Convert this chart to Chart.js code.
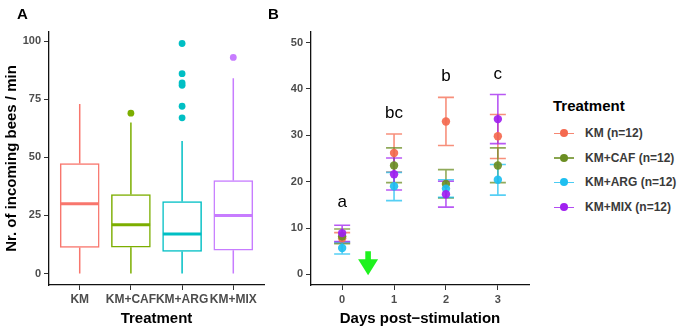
<!DOCTYPE html>
<html>
<head>
<meta charset="utf-8">
<script src="https://cdn.jsdelivr.net/npm/chart.js@4"></script>
<style>
  body { margin: 0; background: #fff; font-family: 'Liberation Sans', Arial, sans-serif; }
  #wrap { position: relative; width: 685px; height: 331px; overflow: hidden; background: #fff; }
  #chart-a, #chart-b { position: absolute; top: 0; }
  #chart-a { left: 0; }
  #chart-b { left: 268px; }
  .panel { position: absolute; font-weight: bold; font-size: 15px; color: #000; line-height: 1; }
  #legend { position: absolute; left: 553px; top: 96px; }
  #legend .title { font-weight: bold; font-size: 15px; color: #000; height: 20px; line-height: 20px; margin-bottom: 5px; }
  #legend .item { position: relative; height: 24.7px; line-height: 24.7px; font-size: 12px; font-weight: bold; color: #3a3a3a; padding-left: 32px; }
  #legend .key-line { position: absolute; left: 1px; top: 11.5px; width: 20px; height: 1.6px; }
  #legend .key-dot { position: absolute; left: 7px; top: 8px; width: 8px; height: 8px; border-radius: 50%; }
</style>
</head>
<body>
<div id="wrap">
  <canvas id="chart-a" width="268" height="331"></canvas>
  <canvas id="chart-b" width="277" height="331"></canvas>
  <div class="panel" style="left:17px;top:6px">A</div>
  <div class="panel" style="left:268px;top:6px">B</div>
  <div id="legend"></div>
</div>
<script>
// ---- Panel A data (boxplots) ----
const treatments = ['KM', 'KM+CAF', 'KM+ARG', 'KM+MIX'];
const boxColors = ['#F8766D', '#7CAE00', '#00BFC4', '#C77CFF'];
const boxLow = [0, 0, 0, 0];
const boxQ1 = [11.2, 11.3, 9.5, 10];
const boxMedian = [30, 21, 17, 25];
const boxQ3 = [47.3, 34, 31, 40];
const boxHigh = [73, 65, 57, 84];
const outlierGroup = [2, 3, 3, 3, 3, 3, 3, 4];
const outlierValue = [69, 99, 86, 82, 81, 72, 67, 93];
const ticksA = [0, 25, 50, 75, 100];

// ---- Panel B data (mean +/- error per day) ----
const days = [0, 1, 2, 3];
const seriesNames = ['KM (n=12)', 'KM+CAF (n=12)', 'KM+ARG (n=12)', 'KM+MIX (n=12)'];
const seriesColors = ['#F4694F', '#6B8E23', '#1EBFF0', '#A020F0'];
const meanKM = [7.8, 26.2, 33.0, 29.8];
const lowKM = [6.8, 22.1, 27.8, 25.0];
const highKM = [9.0, 30.3, 38.2, 34.5];
const meanCAF = [8.2, 23.5, 19.5, 23.5];
const lowCAF = [6.6, 19.8, 16.5, 19.8];
const highCAF = [9.8, 27.3, 22.6, 27.3];
const meanARG = [5.7, 19.0, 18.5, 20.4];
const lowARG = [4.4, 15.9, 16.6, 17.1];
const highARG = [6.9, 22.0, 20.4, 23.7];
const meanMIX = [8.9, 21.6, 17.3, 33.5];
const lowMIX = [7.1, 18.2, 14.5, 28.2];
const highMIX = [10.6, 25.1, 20.1, 38.8];
const letters = ['a', 'bc', 'b', 'c'];
const letterY = [15.6, 34.8, 42.8, 43.1];
const ticksB = [0, 10, 20, 30, 40, 50];
const arrowX = 0.5, arrowFrom = 5.0, arrowTo = -0.2;

const means = [meanKM, meanCAF, meanARG, meanMIX];
const lows = [lowKM, lowCAF, lowARG, lowMIX];
const highs = [highKM, highCAF, highARG, highMIX];

const FONT = "'Liberation Sans', Arial, sans-serif";
const tickFont = { family: FONT, size: 11, weight: 'bold' };
const titleFont = { family: FONT, size: 15, weight: 'bold' };

function rgba(hex, a) {
  const n = parseInt(hex.slice(1), 16);
  return `rgba(${n >> 16},${(n >> 8) & 255},${n & 255},${a})`;
}

function axisStyle(extra) {
  return Object.assign({
    offset: false,
    grid: { drawOnChartArea: false, drawTicks: true, tickLength: 5, color: '#333', lineWidth: 1, offset: false },
    border: { display: true, color: '#111', width: 1.3 },
    ticks: { font: tickFont, color: '#4D4D4D', padding: 3, autoSkip: false, maxRotation: 0 }
  }, extra);
}

// whiskers behind the boxes, medians on top
const boxParts = {
  id: 'boxParts',
  beforeDatasetsDraw(chart) {
    const { ctx, scales: { x, y } } = chart;
    ctx.save();
    ctx.lineWidth = 1.5;
    treatments.forEach((t, i) => {
      const px = x.getPixelForValue(i + 1);
      ctx.strokeStyle = boxColors[i];
      ctx.beginPath();
      ctx.moveTo(px, y.getPixelForValue(boxQ3[i]));
      ctx.lineTo(px, y.getPixelForValue(boxHigh[i]));
      ctx.moveTo(px, y.getPixelForValue(boxQ1[i]));
      ctx.lineTo(px, y.getPixelForValue(boxLow[i]));
      ctx.stroke();
    });
    ctx.restore();
  },
  afterDatasetsDraw(chart) {
    const { ctx, scales: { x, y } } = chart;
    ctx.save();
    ctx.lineWidth = 3;
    const half = x.getPixelForValue(1.375) - x.getPixelForValue(1);
    treatments.forEach((t, i) => {
      const px = x.getPixelForValue(i + 1);
      const py = y.getPixelForValue(boxMedian[i]);
      ctx.strokeStyle = boxColors[i];
      ctx.beginPath();
      ctx.moveTo(px - half, py);
      ctx.lineTo(px + half, py);
      ctx.stroke();
    });
    ctx.restore();
  }
};

new Chart(document.getElementById('chart-a'), {
  type: 'bar',
  data: {
    datasets: [{
      label: 'box',
      data: treatments.map((t, i) => ({ x: i + 1, y: [boxQ1[i], boxQ3[i]] })),
      backgroundColor: '#fff',
      borderColor: boxColors,
      borderWidth: 1.5,
      borderSkipped: false,
      barThickness: 39,
      order: 2
    }, {
      type: 'scatter',
      label: 'outliers',
      data: outlierValue.map((v, i) => ({ x: outlierGroup[i], y: v })),
      pointBackgroundColor: outlierGroup.map(g => boxColors[g - 1]),
      pointBorderWidth: 0,
      pointRadius: 3.4,
      order: 1
    }]
  },
  options: {
    responsive: false,
    animation: false,
    layout: { padding: { left: 0, top: 32, right: 2, bottom: 0 } },
    plugins: { legend: { display: false }, tooltip: { enabled: false } },
    scales: {
      x: axisStyle({
        type: 'linear', min: 0.4, max: 4.6, bounds: 'data',
        afterBuildTicks: s => { s.ticks = treatments.map((t, i) => ({ value: i + 1 })); },
        ticks: { font: { family: FONT, size: 12, weight: 'bold' }, color: '#4D4D4D', padding: 2, autoSkip: false, maxRotation: 0,
                 callback: v => treatments[v - 1] },
        title: { display: true, text: 'Treatment', font: titleFont, color: '#000', padding: { top: 4, bottom: 3 } },
        afterFit: s => { s.height = 46; }
      }),
      y: axisStyle({
        type: 'linear', min: -4.95, max: 103.95, bounds: 'data',
        afterBuildTicks: s => { s.ticks = ticksA.map(v => ({ value: v })); },
        title: { display: true, text: 'Nr. of incoming bees / min', font: { family: FONT, size: 15, weight: 'bold' }, color: '#000', padding: { top: 3, bottom: 0 } },
        afterFit: s => { s.width = 49; }
      })
    }
  },
  plugins: [boxParts]
});

// error bars, group letters and stimulation arrow
const bExtras = {
  id: 'bExtras',
  beforeDatasetsDraw(chart) {
    const { ctx, scales: { x, y } } = chart;
    const cap = 8;
    ctx.save();
    ctx.lineWidth = 1.6;
    seriesNames.forEach((name, s) => {
      ctx.strokeStyle = rgba(seriesColors[s], 0.75);
      days.forEach((d, i) => {
        const px = x.getPixelForValue(d);
        const lo = y.getPixelForValue(lows[s][i]);
        const hi = y.getPixelForValue(highs[s][i]);
        ctx.beginPath();
        ctx.moveTo(px, lo); ctx.lineTo(px, hi);
        ctx.moveTo(px - cap, lo); ctx.lineTo(px + cap, lo);
        ctx.moveTo(px - cap, hi); ctx.lineTo(px + cap, hi);
        ctx.stroke();
      });
    });
    ctx.restore();
  },
  afterDatasetsDraw(chart) {
    const { ctx, scales: { x, y } } = chart;
    ctx.save();
    ctx.fillStyle = '#000';
    ctx.font = `17px ${FONT}`;
    ctx.textAlign = 'center';
    ctx.textBaseline = 'middle';
    letters.forEach((l, i) => ctx.fillText(l, x.getPixelForValue(days[i]), y.getPixelForValue(letterY[i])));
    // arrow
    const ax = x.getPixelForValue(arrowX);
    const top = y.getPixelForValue(arrowFrom);
    const tip = y.getPixelForValue(arrowTo);
    const headLen = 16, headHalf = 10, shaftHalf = 2.8;
    ctx.fillStyle = '#1EF21E';
    ctx.beginPath();
    ctx.moveTo(ax - shaftHalf, top);
    ctx.lineTo(ax + shaftHalf, top);
    ctx.lineTo(ax + shaftHalf, tip - headLen);
    ctx.lineTo(ax + headHalf, tip - headLen);
    ctx.lineTo(ax, tip);
    ctx.lineTo(ax - headHalf, tip - headLen);
    ctx.lineTo(ax - shaftHalf, tip - headLen);
    ctx.closePath();
    ctx.fill();
    ctx.restore();
  }
};

new Chart(document.getElementById('chart-b'), {
  type: 'scatter',
  data: {
    datasets: seriesNames.map((name, s) => ({
      label: name,
      data: days.map((d, i) => ({ x: d, y: means[s][i] })),
      backgroundColor: rgba(seriesColors[s], 0.92),
      borderWidth: 0,
      pointRadius: 4.2,
      order: seriesNames.length - s
    }))
  },
  options: {
    responsive: false,
    animation: false,
    layout: { padding: { left: 0, top: 32, right: 16, bottom: 0 } },
    plugins: { legend: { display: false }, tooltip: { enabled: false } },
    scales: {
      x: axisStyle({
        type: 'linear', min: -0.6, max: 3.6, bounds: 'data',
        afterBuildTicks: s => { s.ticks = days.map(v => ({ value: v })); },
        ticks: { font: tickFont, color: '#4D4D4D', padding: 3, autoSkip: false, maxRotation: 0 },
        title: { display: true, text: 'Days post\u2212stimulation', font: titleFont, color: '#000', padding: { top: 4, bottom: 3 } },
        afterFit: s => { s.height = 46; }
      }),
      y: axisStyle({
        type: 'linear', min: -2.3, max: 52.3, bounds: 'data',
        afterBuildTicks: s => { s.ticks = ticksB.map(v => ({ value: v })); },
        afterFit: s => { s.width = 43; }
      })
    }
  },
  plugins: [bExtras]
});

// legend
const legend = document.getElementById('legend');
legend.innerHTML = '<div class="title">Treatment</div>' + seriesNames.map((name, s) => `
  <div class="item">
    <span class="key-line" style="background:${rgba(seriesColors[s], 0.8)}"></span>
    <span class="key-dot" style="background:${seriesColors[s]}"></span>${name}
  </div>`).join('');
</script>
</body>
</html>
